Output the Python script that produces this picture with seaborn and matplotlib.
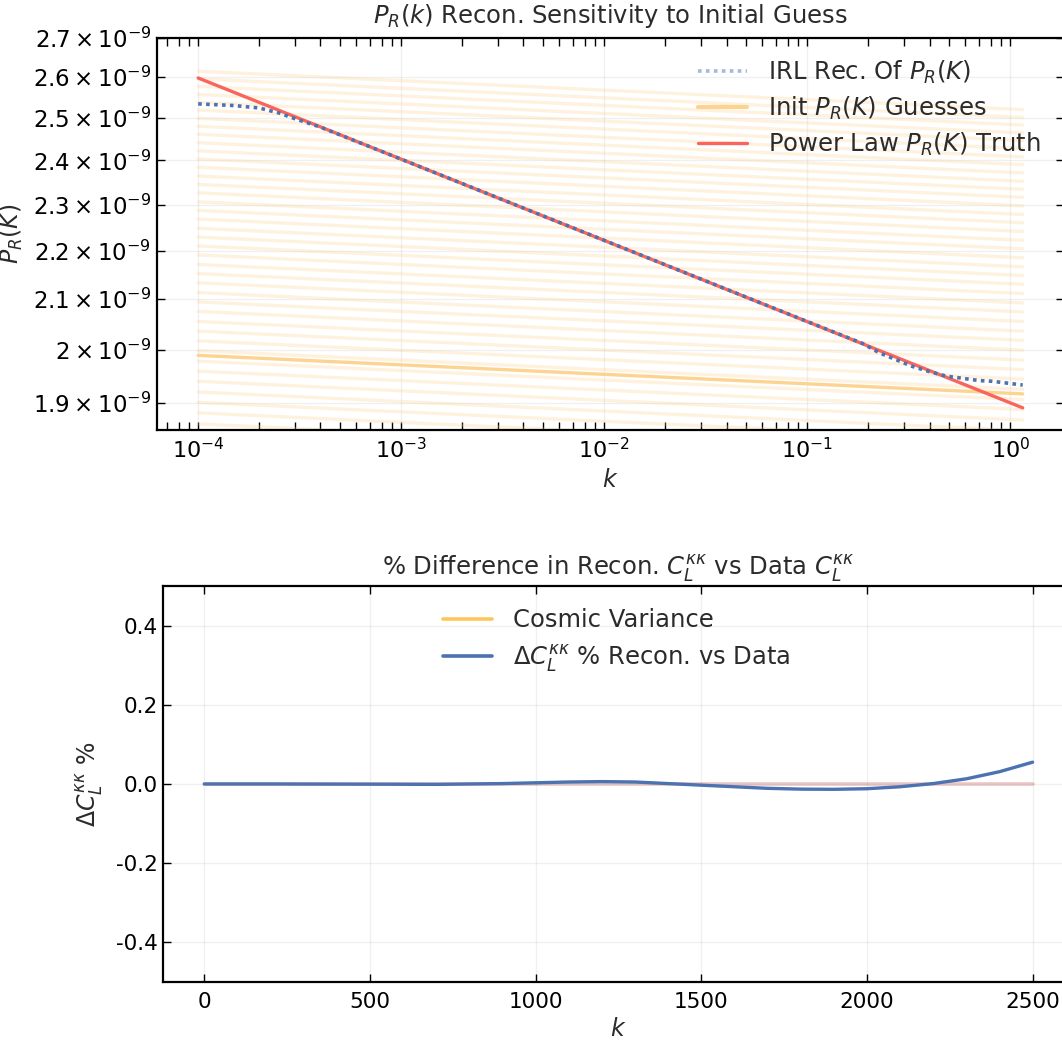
import numpy as np
import pandas as pd
import matplotlib
matplotlib.use("Agg")
import matplotlib.pyplot as plt
import seaborn as sns
from matplotlib.ticker import FixedLocator, FixedFormatter, LogLocator, NullFormatter, NullLocator
from matplotlib.lines import Line2D

# ---------------- data ----------------
# Top panel: power spectrum P_R(k)
truth_k = [1.0e-4, 1.15]
truth_P = [2.598e-9, 1.891e-9]

rec_k = [1.0e-4, 1.5e-4, 2.0e-4, 2.5e-4, 3.0e-4, 4.0e-4, 1.0e-3, 1.0e-2, 1.0e-1, 1.5e-1,
         1.87e-1, 2.26e-1, 3.29e-1, 4.0e-1, 4.84e-1, 7.03e-1, 8.15e-1, 1.15]
rec_P = [2.534e-9, 2.530e-9, 2.524e-9, 2.512e-9, 2.498e-9, 2.478e-9, 2.4026e-9, 2.2219e-9,
         2.0548e-9, 2.027e-9, 2.012e-9, 1.994e-9, 1.968e-9, 1.958e-9, 1.9496e-9, 1.9413e-9,
         1.940e-9, 1.933e-9]

guess_k = [1.0e-4, 1.15]
guess_left = [2.615, 2.596, 2.577, 2.557, 2.538, 2.519, 2.499, 2.480, 2.461, 2.441,
              2.422, 2.403, 2.384, 2.364, 2.345, 2.326, 2.306, 2.287, 2.268, 2.248,
              2.229, 2.210, 2.191, 2.171, 2.152, 2.133, 2.113, 2.094, 2.075, 2.055,
              2.036, 2.017, 1.998, 1.978, 1.959, 1.940, 1.920, 1.901, 1.882, 1.862]
guess_right = [2.520, 2.501, 2.483, 2.464, 2.446, 2.427, 2.408, 2.390, 2.371, 2.352,
               2.334, 2.316, 2.297, 2.278, 2.260, 2.241, 2.222, 2.204, 2.185, 2.166,
               2.148, 2.130, 2.111, 2.092, 2.074, 2.055, 2.036, 2.018, 1.999, 1.980,
               1.962, 1.944, 1.925, 1.906, 1.888, 1.869, 1.850, 1.832, 1.813, 1.794]
chosen_guess_P = [1.989e-9, 1.9166e-9]

ytick_vals = [1.9e-9, 2.0e-9, 2.1e-9, 2.2e-9, 2.3e-9, 2.4e-9, 2.5e-9, 2.6e-9, 2.7e-9]
ytick_mant = ["1.9", "2", "2.1", "2.2", "2.3", "2.4", "2.5", "2.6", "2.7"]
xtick_vals = [1e-4, 1e-3, 1e-2, 1e-1, 1e0]

# Bottom panel: % difference
ell = [0, 200, 500, 700, 900, 1000, 1100, 1200, 1300, 1400, 1500, 1600, 1700,
       1800, 1900, 2000, 2100, 2200, 2300, 2400, 2500]
dcl = [0.0, 0.0, -0.0005, -0.001, 0.001, 0.003, 0.005, 0.006, 0.005, 0.001, -0.003,
       -0.007, -0.011, -0.013, -0.0135, -0.012, -0.007, 0.001, 0.013, 0.031, 0.055]
zero_ell = [0, 2500]
zero_val = [0.0, 0.0]
b_yticks = [-0.4, -0.2, 0.0, 0.2, 0.4]
b_yticklabels = ["-0.4", "-0.2", "0.0", "0.2", "0.4"]
b_xticks = [0, 500, 1000, 1500, 2000, 2500]

# ---------------- style ----------------
sns.set_theme(style="ticks")
plt.rcParams["font.family"] = ["DejaVu Sans"]
plt.rcParams["mathtext.fontset"] = "dejavusans"
plt.rcParams["axes.unicode_minus"] = False

TXT = "#2b2b2b"
RED = "#f9655c"
BLUE = "#4c72b0"
ORANGE = "#fdcf85"
CV = "#fec65a"
PINK = "#c44e52"

fig = plt.figure(figsize=(10.62, 10.41), dpi=100)
ax1 = fig.add_axes([0.1478, 0.5869, 0.854, 0.3766])
ax2 = fig.add_axes([0.1535, 0.0567, 0.8578, 0.3804])

# ---- top panel ----
rows = []
for i, (l, r) in enumerate(zip(guess_left, guess_right)):
    rows.append({"k": guess_k[0], "P": l * 1e-9, "g": i})
    rows.append({"k": guess_k[1], "P": r * 1e-9, "g": i})
gdf = pd.DataFrame(rows)
sns.lineplot(data=gdf, x="k", y="P", units="g", estimator=None, color=ORANGE,
             alpha=0.27, lw=2.4, ax=ax1, legend=False)
sns.lineplot(x=guess_k, y=chosen_guess_P, color=ORANGE, alpha=0.9, lw=2.4, ax=ax1)
sns.lineplot(x=truth_k, y=truth_P, color=RED, lw=2.4, ax=ax1)
sns.lineplot(x=rec_k, y=rec_P, color=BLUE, lw=2.6, ax=ax1)
ax1.lines[-1].set_dashes((1.0, 1.2))

ax1.set_xscale("log")
ax1.set_yscale("log")
ax1.set_xlim(10 ** -4.203, 10 ** 0.2637)
ax1.set_ylim(1.851e-9, 2.70e-9)
ax1.xaxis.set_major_locator(FixedLocator(xtick_vals))
ax1.xaxis.set_minor_locator(LogLocator(base=10, subs=np.arange(2, 10), numticks=100))
ax1.xaxis.set_minor_formatter(NullFormatter())
ax1.yaxis.set_major_locator(FixedLocator(ytick_vals))
ax1.yaxis.set_major_formatter(FixedFormatter([r"$%s\times10^{-9}$" % m for m in ytick_mant]))
ax1.yaxis.set_minor_locator(NullLocator())
ax1.yaxis.set_minor_formatter(NullFormatter())

ax1.set_title(r"$P_R(k)$ Recon. Sensitivity to Initial Guess", fontsize=17.5, color=TXT, pad=11)
ax1.set_xlabel(r"$k$", fontsize=17, color=TXT)
ax1.set_ylabel(r"$P_R(K)$", fontsize=17, color=TXT)
ax1.yaxis.set_label_coords(-0.146, 0.5)

h1 = [Line2D([], [], color=BLUE, lw=2.6, alpha=0.5, dashes=(1.0, 1.2)),
      Line2D([], [], color=ORANGE, lw=3.0, alpha=0.9),
      Line2D([], [], color=RED, lw=2.4)]
l1 = [r"IRL Rec. Of $P_R(K)$", r"Init $P_R(K)$ Guesses", r"Power Law $P_R(K)$ Truth"]
leg1 = ax1.legend(h1, l1, loc="upper right", bbox_to_anchor=(0.9846, 0.972), frameon=False,
                  fontsize=17.5, handlelength=2.0, handletextpad=0.85, labelspacing=0.36,
                  borderpad=0.4, borderaxespad=0)
for t in leg1.get_texts():
    t.set_color(TXT)

# ---- bottom panel ----
sns.lineplot(x=zero_ell, y=zero_val, color=PINK, alpha=0.32, lw=2.6, ax=ax2)
sns.lineplot(x=ell, y=dcl, color=BLUE, lw=2.4, ax=ax2)
ax2.set_xlim(-125, 2625)
ax2.set_ylim(-0.5, 0.5)
ax2.xaxis.set_major_locator(FixedLocator(b_xticks))
ax2.yaxis.set_major_locator(FixedLocator(b_yticks))
ax2.yaxis.set_major_formatter(FixedFormatter(b_yticklabels))
ax2.set_title(r"% Difference in Recon. $C_L^{\kappa\kappa}$ vs Data $C_L^{\kappa\kappa}$",
              fontsize=17.5, color=TXT, pad=8)
ax2.set_xlabel(r"$k$", fontsize=17, color=TXT)
ax2.set_ylabel(r"$\Delta C_L^{\kappa\kappa}$ %", fontsize=17, color=TXT)
ax2.yaxis.set_label_coords(-0.064, 0.5)

h2 = [Line2D([], [], color=CV, lw=2.6), Line2D([], [], color=BLUE, lw=2.6)]
l2 = ["Cosmic Variance", r"$\Delta C_L^{\kappa\kappa}$ % Recon. vs Data"]
leg2 = ax2.legend(h2, l2, loc="upper left", bbox_to_anchor=(0.297, 0.968), frameon=False,
                  fontsize=17.5, handlelength=2.0, handletextpad=0.85, labelspacing=0.42,
                  borderpad=0.4, borderaxespad=0)
for t in leg2.get_texts():
    t.set_color(TXT)

for ax in (ax1, ax2):
    ax.grid(True, which="major", color="#000000", alpha=0.06, lw=1.0)
    ax.tick_params(which="both", direction="in", top=True, right=True, colors="black",
                   labelcolor="black", labelsize=15.5, width=1.0, length=5.5, pad=5)
    for s in ax.spines.values():
        s.set_visible(True)
        s.set_color("black")
        s.set_linewidth(1.6)
    ax.set_axisbelow(True)
ax1.tick_params(axis="y", labelsize=16.5, pad=4)
ax1.tick_params(axis="x", labelsize=16)
ax2.tick_params(axis="y", pad=4)
ax2.tick_params(axis="x", pad=7)

fig.savefig("out.png", dpi=100)
